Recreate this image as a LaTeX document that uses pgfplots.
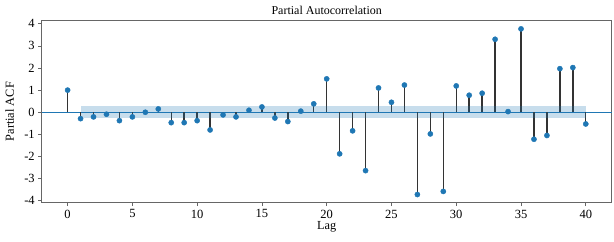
\documentclass[border=0pt]{standalone}
\usepackage{fontspec}
\setmainfont{Liberation Serif}
\usepackage{pgfplots}
\pgfplotsset{compat=1.18}
\definecolor{c0}{HTML}{1F77B4}
\begin{document}
\begin{tikzpicture}
\path[use as bounding box] (-41.7pt,-38.7pt) rectangle (572.3pt,202.7pt);
\begin{axis}[
  scale only axis, width=570pt, height=182pt,
  xmin=-2, xmax=42, ymin=-4.09, ymax=4.14,
  xtick={0,5,...,40}, ytick={-4,-3,...,4},
  tick align=outside, xtick pos=bottom, ytick pos=left,
  major tick length=3.5pt,
  axis line style={black!60, line width=0.8pt},
  every tick/.style={black!60, line width=0.8pt},
  /pgf/number format/assume math mode=true,
  tick label style={font=\fontsize{12.5}{14}\selectfont},
  title={Partial Autocorrelation},
  title style={at={(axis description cs:0.5,1)}, anchor=base, yshift=0pt, font=\fontsize{12}{14}\selectfont},
  xlabel={Lag},
  xlabel style={at={(axis description cs:0.5,0)}, anchor=base, yshift=-26.4pt, font=\fontsize{12.3}{14}\selectfont},
  ylabel={Partial ACF},
  ylabel style={at={(axis description cs:0,0.5)}, anchor=center, yshift=32pt, font=\fontsize{12.3}{14}\selectfont},
  clip=false,
]
\addplot[c0, line width=1.2pt, forget plot] coordinates {(-2,0) (42,0)};
\pgfplotstableread{
lag val
0 1.00
1 -0.29
2 -0.21
3 -0.09
4 -0.38
5 -0.21
6 0.00
7 0.15
8 -0.47
9 -0.47
10 -0.38
11 -0.80
12 -0.12
13 -0.21
14 0.09
15 0.24
16 -0.26
17 -0.42
18 0.05
19 0.38
20 1.51
21 -1.88
22 -0.84
23 -2.64
24 1.10
25 0.45
26 1.23
27 -3.72
28 -0.98
29 -3.58
30 1.19
31 0.77
32 0.86
33 3.30
34 0.03
35 3.77
36 -1.22
37 -1.05
38 1.97
39 2.02
40 -0.53
}\pacf
\addplot[ycomb, black!80, line width=1.4pt, no marks] table[x=lag, y=val] {\pacf};
\addplot[only marks, mark=*, mark size=2.6pt, c0, mark options={draw=c0, fill=c0}] table[x=lag, y=val] {\pacf};
\addplot[fill=c0, fill opacity=0.25, draw=none] coordinates {(1,-0.27) (40,-0.27) (40,0.27) (1,0.27)} -- cycle;
\end{axis}
\end{tikzpicture}
\end{document}
